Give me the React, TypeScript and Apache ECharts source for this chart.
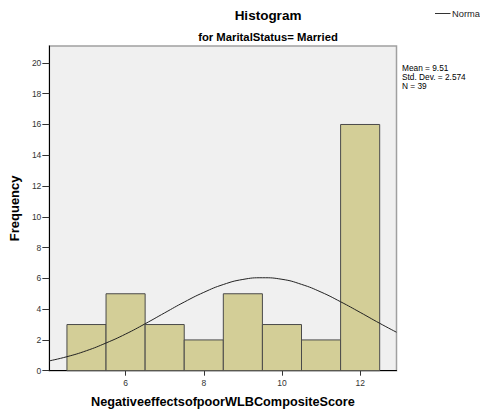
import React, { useEffect, useRef } from "react";
import * as echarts from "echarts";

const binCenters = [5, 6, 7, 8, 9, 10, 11, 12];
const binCounts = [3, 5, 3, 2, 5, 3, 2, 16];
const curveX = [4.05, 4.5, 5, 5.5, 6, 6.5, 7, 7.5, 8, 8.5, 9, 9.5, 10, 10.5, 11, 11.5, 12, 12.5, 12.93];
const curveY = [0.64, 0.91, 1.3, 1.8, 2.38, 3.05, 3.76, 4.46, 5.09, 5.6, 5.93, 6.04, 5.94, 5.61, 5.11, 4.48, 3.79, 3.08, 2.5];
const xTicks = [6, 8, 10, 12];
const yTicks = [0, 2, 4, 6, 8, 10, 12, 14, 16, 18, 20];
const statsLines = ["Mean = 9.51", "Std. Dev. = 2.574", "N = 39"];
const legendLabel = "Norma";

const FONT = "Liberation Sans, Arial, sans-serif";

export default function App() {
  const ref = useRef<HTMLDivElement>(null);
  useEffect(() => {
    if (!ref.current) return;
    const chart = echarts.init(ref.current, null, { renderer: "svg" });
    chart.setOption({
      animation: false,
      backgroundColor: "#ffffff",
      textStyle: { fontFamily: FONT },
      title: [
        {
          text: "Histogram",
          left: 263,
          top: 3,
          textAlign: "center",
          textStyle: { fontFamily: FONT, fontSize: 13.5, fontWeight: "bold", color: "#000" },
        },
        {
          text: "for MaritalStatus= Married",
          left: 263,
          top: 26,
          textAlign: "center",
          textStyle: { fontFamily: FONT, fontSize: 11.3, fontWeight: "bold", color: "#000" },
        },
      ],
      grid: {
        left: 46.5,
        right: 83.5,
        top: 46,
        bottom: 43.3,
        show: true,
        backgroundColor: "#f0f0f0",
        borderColor: "#a0a0a0",
        borderWidth: 1.5,
      },
      xAxis: {
        type: "value",
        min: 4.05,
        max: 12.93,
        name: "NegativeeffectsofpoorWLBCompositeScore",
        nameLocation: "middle",
        nameGap: 25,
        nameTextStyle: { fontFamily: FONT, fontSize: 12.7, fontWeight: "bold", color: "#000" },
        splitLine: { show: false },
        axisLine: { show: true, onZero: false, lineStyle: { color: "#000", width: 1 } },
        axisTick: { show: true, length: 5, customValues: xTicks, lineStyle: { color: "#333" } },
        axisLabel: { customValues: xTicks, fontSize: 8.5, color: "#333", margin: 8, fontFamily: FONT },
      },
      yAxis: {
        type: "value",
        min: 0,
        max: 21.1,
        name: "Frequency",
        nameLocation: "middle",
        nameGap: 24,
        nameTextStyle: { fontFamily: FONT, fontSize: 13, fontWeight: "bold", color: "#000" },
        splitLine: { show: false },
        axisLine: { show: true, lineStyle: { color: "#000", width: 1 } },
        axisTick: { show: true, length: 7, customValues: yTicks, lineStyle: { color: "#333" } },
        axisLabel: { customValues: yTicks, fontSize: 8.5, color: "#333", margin: 8, fontFamily: FONT },
      },
      series: [
        {
          type: "custom",
          data: binCenters.map((c, i) => [c, binCounts[i]]),
          encode: { x: 0, y: 1 },
          renderItem: (params: any, api: any) => {
            const x = api.value(0);
            const y = api.value(1);
            const p0 = api.coord([x - 0.5, y]);
            const p1 = api.coord([x + 0.5, 0]);
            return {
              type: "rect",
              shape: { x: p0[0], y: p0[1], width: p1[0] - p0[0], height: p1[1] - p0[1] },
              style: { fill: "#d3ce97", stroke: "#4a4a4a", lineWidth: 1 },
            };
          },
          z: 2,
        },
        {
          type: "line",
          name: "Normal",
          data: curveX.map((x, i) => [x, curveY[i]]),
          smooth: true,
          symbol: "none",
          lineStyle: { color: "#222", width: 1 },
          z: 3,
        },
      ],
      graphic: [
        {
          type: "line",
          shape: { x1: 435, y1: 13.5, x2: 450.5, y2: 13.5 },
          style: { stroke: "#333", lineWidth: 1 },
        },
        {
          type: "text",
          x: 452,
          y: 13.5,
          style: {
            text: legendLabel,
            fontFamily: FONT,
            fontSize: 9.3,
            fill: "#222",
            verticalAlign: "middle",
          },
        },
        {
          type: "text",
          x: 402,
          y: 64,
          style: {
            text: statsLines.join("\n"),
            fontFamily: FONT,
            fontSize: 8.3,
            lineHeight: 8.6,
            fill: "#000",
            verticalAlign: "top",
          },
        },
      ],
    });
    return () => chart.dispose();
  }, []);
  return (
    <div
      ref={ref}
      style={{ position: "absolute", left: 0, top: 0, width: 480, height: 414 }}
    />
  );
}
